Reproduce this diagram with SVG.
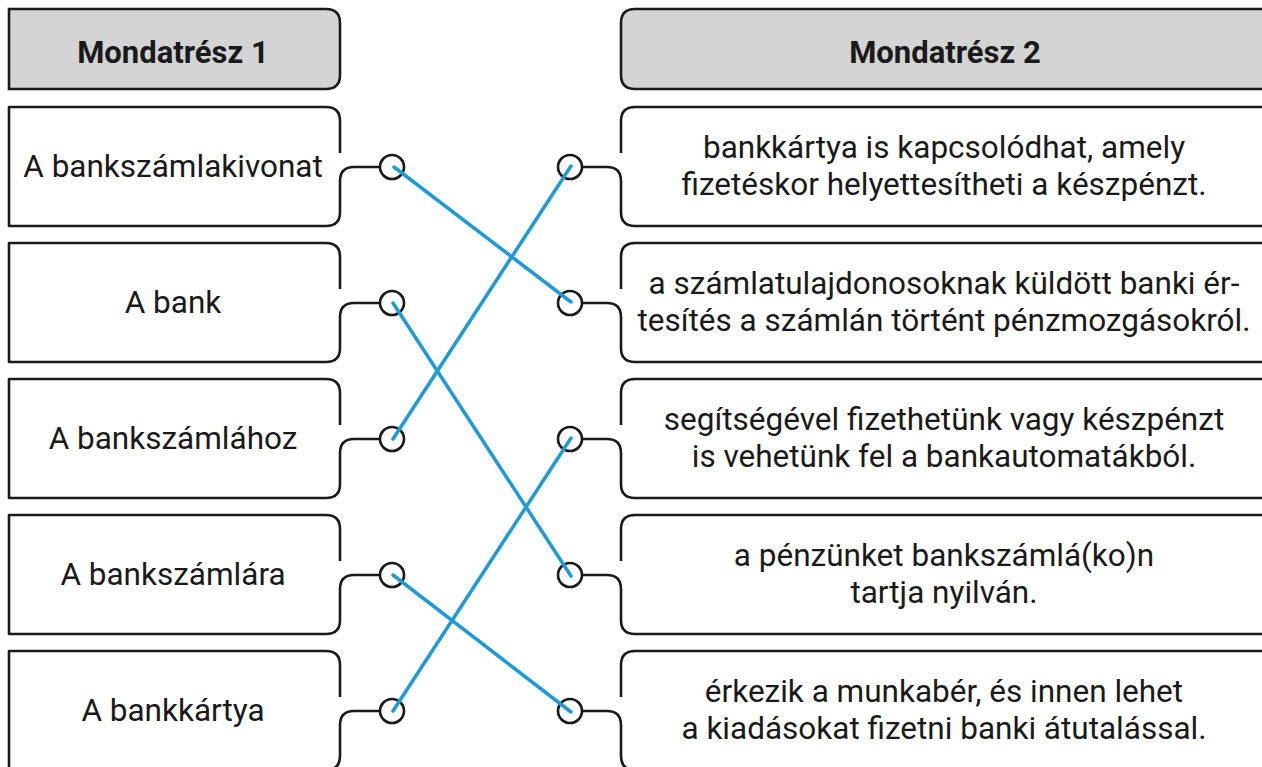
<svg xmlns="http://www.w3.org/2000/svg" width="1262" height="767" viewBox="0 0 1262 767">
<style>
.box{fill:#fff;stroke:#1a1a1a;stroke-width:2.6;stroke-linejoin:round}
.hdr{fill:#d4d4d4;stroke:#1a1a1a;stroke-width:2.6}
.dot{fill:#fff;stroke:#1a1a1a;stroke-width:2.6}
.t{font-family:Roboto,"Liberation Sans",sans-serif;font-size:31.5px;fill:#1a1a1a;text-anchor:middle}
.h{font-family:Roboto,"Liberation Sans",sans-serif;font-size:31px;font-weight:bold;fill:#1a1a1a;text-anchor:middle}
.ln{stroke:#1f9ad6;stroke-width:3.5;stroke-linecap:round;fill:none}
</style>
<defs>
<path id="L" class="box" d="M340,46 V14 Q340,0 326,0 H9 V119 H326 Q340,119 340,105 V74 Q340,60 354,60 H384"/>
<path id="R" class="box" d="M621,46 V14 Q621,0 635,0 H1270 M1270,119 H635 Q621,119 621,105 V74 Q621,60 607,60 H578"/>
</defs>
<g id="headers">
<g id="header1"><path class="hdr" d="M9,9 H326 Q340,9 340,23 V75 Q340,89 326,89 H9 Z"/><text class="h" x="173" y="63">Mondatrész 1</text></g>
<g id="header2"><path class="hdr" d="M1272,9 H635 Q621,9 621,23 V75 Q621,89 635,89 H1272 Z"/><text class="h" x="945" y="63">Mondatrész 2</text></g>
</g>
<g id="left">
<g id="l1" transform="translate(0,107)"><use href="#L"/><circle class="dot" cx="392" cy="60" r="12"/><text class="t" x="173" y="70">A bankszámlakivonat</text></g>
<g id="l2" transform="translate(0,243)"><use href="#L"/><circle class="dot" cx="392" cy="60" r="12"/><text class="t" x="173" y="70">A bank</text></g>
<g id="l3" transform="translate(0,379)"><use href="#L"/><circle class="dot" cx="392" cy="60" r="12"/><text class="t" x="173" y="70">A bankszámlához</text></g>
<g id="l4" transform="translate(0,515)"><use href="#L"/><circle class="dot" cx="392" cy="60" r="12"/><text class="t" x="173" y="70">A bankszámlára</text></g>
<g id="l5" transform="translate(0,651)"><use href="#L"/><circle class="dot" cx="392" cy="60" r="12"/><text class="t" x="173" y="70">A bankkártya</text></g>
</g>
<g id="right">
<g id="r1" transform="translate(0,107)"><use href="#R"/><circle class="dot" cx="570" cy="60" r="12"/><text class="t" x="944" y="51">bankkártya is kapcsolódhat, amely</text><text class="t" x="944" y="88">fizetéskor helyettesítheti a készpénzt.</text></g>
<g id="r2" transform="translate(0,243)"><use href="#R"/><circle class="dot" cx="570" cy="60" r="12"/><text class="t" x="944" y="51">a számlatulajdonosoknak küldött banki ér-</text><text class="t" x="944" y="88">tesítés a számlán történt pénzmozgásokról.</text></g>
<g id="r3" transform="translate(0,379)"><use href="#R"/><circle class="dot" cx="570" cy="60" r="12"/><text class="t" x="944" y="51">segítségével fizethetünk vagy készpénzt</text><text class="t" x="944" y="88">is vehetünk fel a bankautomatákból.</text></g>
<g id="r4" transform="translate(0,515)"><use href="#R"/><circle class="dot" cx="570" cy="60" r="12"/><text class="t" x="944" y="51">a pénzünket bankszámlá(ko)n</text><text class="t" x="944" y="88">tartja nyilván.</text></g>
<g id="r5" transform="translate(0,651)"><use href="#R"/><circle class="dot" cx="570" cy="60" r="12"/><text class="t" x="944" y="51">érkezik a munkabér, és innen lehet</text><text class="t" x="944" y="88">a kiadásokat fizetni banki átutalással.</text></g>
</g>
<g id="connectors">
<line class="ln" x1="394" y1="167" x2="571" y2="302"/>
<line class="ln" x1="393" y1="303" x2="571" y2="576"/>
<line class="ln" x1="393" y1="439" x2="571" y2="166"/>
<line class="ln" x1="393" y1="575" x2="571" y2="712"/>
<line class="ln" x1="393" y1="711" x2="571" y2="438"/>
</g>
</svg>
